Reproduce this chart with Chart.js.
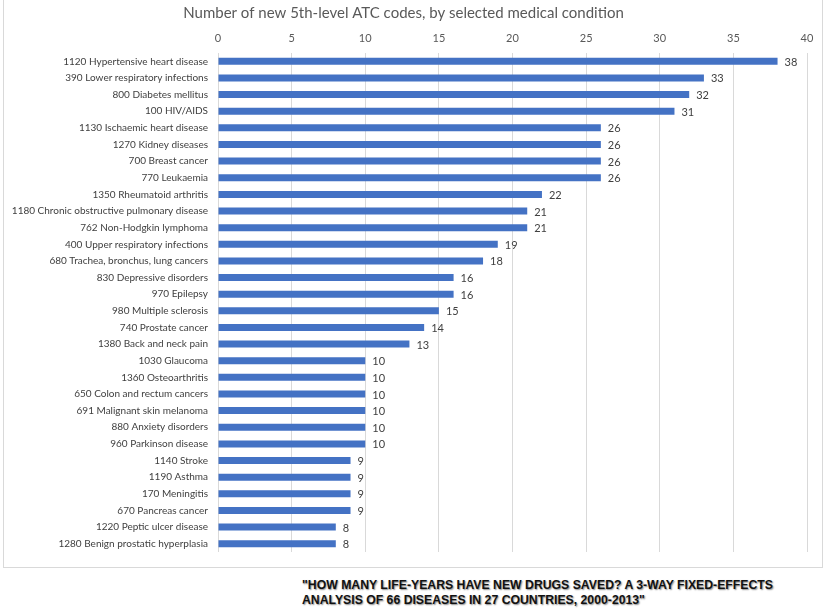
<!DOCTYPE html>
<html>
<head>
<meta charset="utf-8">
<script src="https://cdn.jsdelivr.net/npm/chart.js@4"></script>
<style>
  body { margin: 0; background: #fff; }
  #page { position: relative; width: 831px; height: 613px; overflow: hidden; }
  #frame { position: absolute; left: 3px; top: -2px; width: 818px; height: 568px; border: 1px solid #d9d9d9; }
  #cv { position: absolute; left: 0; top: 0; }
  #caption {
    position: absolute; left: 302px; top: 578px;
    font-family: "Liberation Sans", Arial, sans-serif;
    font-weight: bold; font-size: 13px; line-height: 14.5px; color: #111;
    text-shadow: 1px 1px 1.5px #888;
    white-space: nowrap;
    transform-origin: 0 0;
  }
</style>
</head>
<body>
<div id="page">
  <div id="frame"></div>
  <canvas id="cv" width="831" height="568"></canvas>
  <div id="caption">"HOW MANY LIFE-YEARS HAVE NEW DRUGS SAVED? A 3-WAY FIXED-EFFECTS<br>ANALYSIS OF 66 DISEASES IN 27 COUNTRIES, 2000-2013"</div>
</div>
<script>
var conditions = [
  '1120 Hypertensive heart disease',
  '390 Lower respiratory infections',
  '800 Diabetes mellitus',
  '100 HIV/AIDS',
  '1130 Ischaemic heart disease',
  '1270 Kidney diseases',
  '700 Breast cancer',
  '770 Leukaemia',
  '1350 Rheumatoid arthritis',
  '1180 Chronic obstructive pulmonary disease',
  '762 Non-Hodgkin lymphoma',
  '400 Upper respiratory infections',
  '680 Trachea, bronchus, lung cancers',
  '830 Depressive disorders',
  '970 Epilepsy',
  '980 Multiple sclerosis',
  '740 Prostate cancer',
  '1380 Back and neck pain',
  '1030 Glaucoma',
  '1360 Osteoarthritis',
  '650 Colon and rectum cancers',
  '691 Malignant skin melanoma',
  '880 Anxiety disorders',
  '960 Parkinson disease',
  '1140 Stroke',
  '1190 Asthma',
  '170 Meningitis',
  '670 Pancreas cancer',
  '1220 Peptic ulcer disease',
  '1280 Benign prostatic hyperplasia'
];
var newCodes = [38, 33, 32, 31, 26, 26, 26, 26, 22, 21, 21, 19, 18, 16, 16, 15, 14, 13,
                10, 10, 10, 10, 10, 10, 9, 9, 9, 9, 8, 8];
var tickMin = 0, tickMax = 40, tickStep = 5;

// squeeze the caption to the narrow width it has in the source
var cap = document.getElementById('caption');
cap.style.transform = 'scaleX(' + (471 / cap.scrollWidth) + ')';

// value labels at the end of each bar
var barValues = {
  id: 'barValues',
  afterDatasetsDraw: function(chart) {
    var ctx = chart.ctx;
    var meta = chart.getDatasetMeta(0);
    ctx.save();
    ctx.font = '11px Lato';
    ctx.fillStyle = '#404040';
    ctx.textAlign = 'left';
    ctx.textBaseline = 'middle';
    meta.data.forEach(function(bar, i) {
      ctx.fillText(String(chart.data.datasets[0].data[i]), bar.x + 7, bar.y + 1);
    });
    ctx.restore();
  }
};

var cfg = {
  type: 'bar',
  data: {
    labels: conditions,
    datasets: [{
      label: 'New 5th-level ATC codes',
      data: newCodes,
      backgroundColor: '#4472C4',
      borderWidth: 0,
      barPercentage: 0.42,
      categoryPercentage: 1
    }]
  },
  options: {
    indexAxis: 'y',
    responsive: false,
    animation: false,
    layout: { padding: { left: 0, right: 24, top: 0, bottom: 7 } },
    plugins: {
      legend: { display: false },
      tooltip: { enabled: false },
      title: {
        display: true,
        text: 'Number of new 5th-level ATC codes, by selected medical condition',
        color: '#595959',
        font: { family: 'Lato', size: 15, weight: 'normal' },
        padding: { top: 4, bottom: 4 }
      }
    },
    scales: {
      x: {
        position: 'top',
        min: tickMin,
        max: tickMax,
        ticks: { stepSize: tickStep, color: '#595959', font: { family: 'Lato', size: 11 }, padding: 8 },
        grid: { color: '#d9d9d9', drawTicks: false },
        border: { display: false },
        afterFit: function(s) { s.height = 27; }
      },
      y: {
        ticks: { color: '#404040', font: { family: 'Lato', size: 10 }, padding: 10, autoSkip: false },
        grid: { display: false, drawTicks: false },
        border: { display: false },
        afterFit: function(s) { s.width = 218; }
      }
    }
  },
  plugins: [barValues]
};

var atcChart = new Chart(document.getElementById('cv').getContext('2d'), cfg);
</script>
</body>
</html>
